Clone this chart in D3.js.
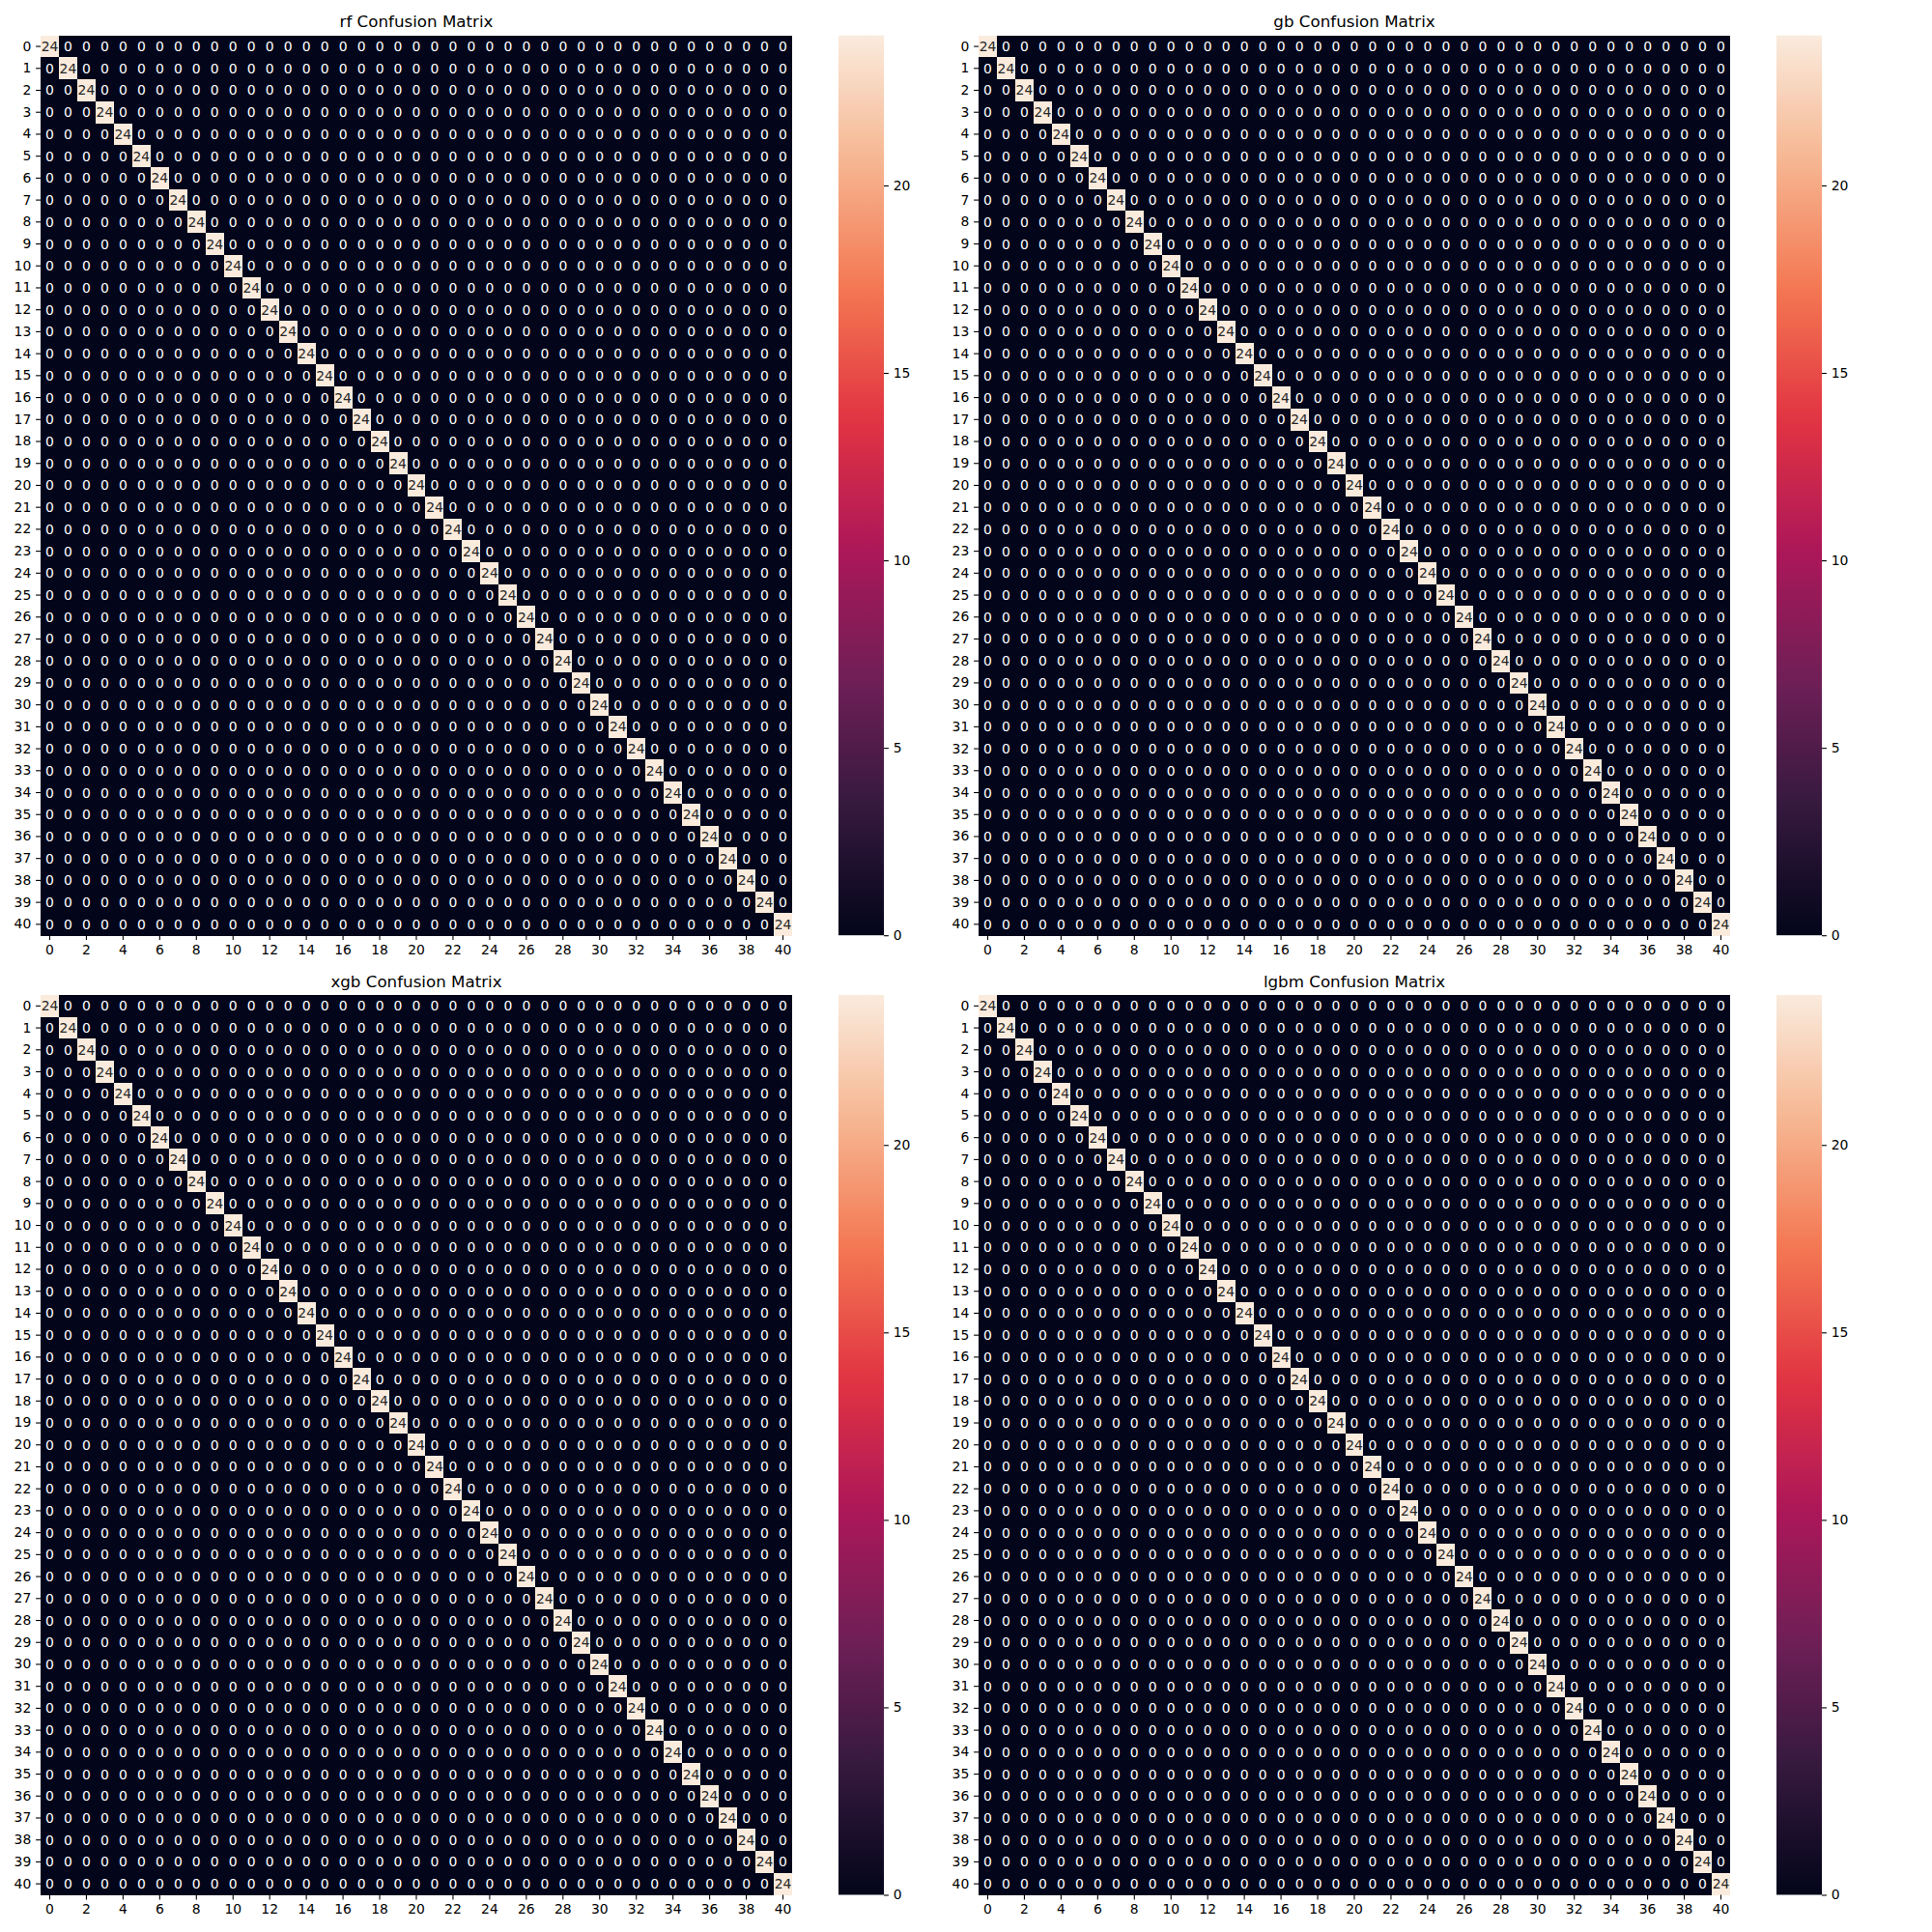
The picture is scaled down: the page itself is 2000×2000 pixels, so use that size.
<!DOCTYPE html>
<html>
<head>
<meta charset="utf-8">
<script src="https://cdn.jsdelivr.net/npm/d3@7"></script>
<style>
  html, body { margin: 0; padding: 0; background: #fff; }
  svg { display: block; }
  text { font-family: "DejaVu Sans", sans-serif; }
</style>
</head>
<body>
<svg id="chart" width="2000" height="2000"></svg>
<script>
// ---------------- DATA ----------------
const classes = [0,1,2,3,4,5,6,7,8,9,10,11,12,13,14,15,16,17,18,19,20,21,22,23,24,25,26,27,28,29,30,31,32,33,34,35,36,37,38,39,40];
const models = ["rf", "gb", "xgb", "lgbm"];
// Diagonal (correct predictions) per class, per model; all off-diagonal cells are 0
const rfDiag   = [24,24,24,24,24,24,24,24,24,24,24,24,24,24,24,24,24,24,24,24,24,24,24,24,24,24,24,24,24,24,24,24,24,24,24,24,24,24,24,24,24];
const gbDiag   = [24,24,24,24,24,24,24,24,24,24,24,24,24,24,24,24,24,24,24,24,24,24,24,24,24,24,24,24,24,24,24,24,24,24,24,24,24,24,24,24,24];
const xgbDiag  = [24,24,24,24,24,24,24,24,24,24,24,24,24,24,24,24,24,24,24,24,24,24,24,24,24,24,24,24,24,24,24,24,24,24,24,24,24,24,24,24,24];
const lgbmDiag = [24,24,24,24,24,24,24,24,24,24,24,24,24,24,24,24,24,24,24,24,24,24,24,24,24,24,24,24,24,24,24,24,24,24,24,24,24,24,24,24,24];
const xTickLabels = [0,2,4,6,8,10,12,14,16,18,20,22,24,26,28,30,32,34,36,38,40];
const yTickLabels = classes;
const colorbarTicks = [0,5,10,15,20];

// ---------------- LAYOUT ----------------
const diagByModel = { rf: rfDiag, gb: gbDiag, xgb: xgbDiag, lgbm: lgbmDiag };
const panels = [
  { name: "rf",   x0: 42,   y0: 36.7 },
  { name: "gb",   x0: 1013, y0: 36.7 },
  { name: "xgb",  x0: 42,   y0: 1030 },
  { name: "lgbm", x0: 1013, y0: 1030 }
];
const W = 778, H = 931.5;
const cbOffset = 826, cbW = 47;

// rocket colormap approximation
const rocketStops = ["#03051a", "#35193e", "#701f57", "#ad1759", "#e13342", "#f37651", "#f6b48f", "#faebdd"];
const rocket = d3.scaleLinear()
  .domain(rocketStops.map((_, i) => i / (rocketStops.length - 1)))
  .range(rocketStops)
  .interpolate(d3.interpolateRgb);

const svg = d3.select("#chart");
const tickLen = 4.9;
const fs = 13.9;

panels.forEach((p, pi) => {
  const diag = diagByModel[p.name];
  const matrix = [];
  classes.forEach((r, i) => classes.forEach((c, j) => {
    matrix.push({ r, c, v: i === j ? diag[i] : 0 });
  }));
  const vmin = 0, vmax = d3.max(matrix, d => d.v);
  const color = v => rocket((v - vmin) / (vmax - vmin));

  const x = d3.scaleBand().domain(classes).range([p.x0, p.x0 + W]).padding(0);
  const y = d3.scaleBand().domain(classes).range([p.y0, p.y0 + H]).padding(0);

  const g = svg.append("g");
  g.selectAll("rect.cell").data(matrix).join("rect")
    .attr("class", "cell")
    .attr("x", d => x(d.c))
    .attr("y", d => y(d.r))
    .attr("width", x.bandwidth() + 0.4)
    .attr("height", y.bandwidth() + 0.4)
    .attr("fill", d => color(d.v))
    .attr("shape-rendering", "crispEdges");

  g.selectAll("text.ann").data(matrix).join("text")
    .attr("class", "ann")
    .attr("x", d => x(d.c) + x.bandwidth() / 2)
    .attr("y", d => y(d.r) + y.bandwidth() / 2)
    .attr("text-anchor", "middle")
    .attr("dominant-baseline", "central")
    .attr("font-size", fs)
    .attr("fill", d => {
      const c = d3.rgb(color(d.v));
      const lum = 0.2126 * c.r + 0.7152 * c.g + 0.0722 * c.b;
      return lum > 104 ? "#262626" : "#ffffff";
    })
    .text(d => d.v);

  // axes
  const xAxis = d3.axisBottom(x).tickValues(xTickLabels).tickSize(tickLen).tickPadding(3.5 * 1.39);
  const yAxis = d3.axisLeft(y).tickValues(yTickLabels).tickSize(tickLen).tickPadding(3.5 * 1.39);
  const gx = svg.append("g").attr("transform", `translate(0,${p.y0 + H})`).call(xAxis);
  const gy = svg.append("g").attr("transform", `translate(${p.x0},0)`).call(yAxis);
  [gx, gy].forEach(a => {
    a.select(".domain").remove();
    a.selectAll(".tick line").attr("stroke", "#000").attr("stroke-width", 1.1);
    a.selectAll(".tick text").attr("font-size", fs).attr("fill", "#000").attr("font-family", "DejaVu Sans, sans-serif");
  });

  // title
  svg.append("text")
    .attr("x", p.x0 + W / 2)
    .attr("y", p.y0 - 8.5)
    .attr("text-anchor", "middle")
    .attr("font-size", 16.7)
    .attr("fill", "#000")
    .text(`${p.name} Confusion Matrix`);

  // colorbar
  const cbX = p.x0 + cbOffset;
  const cbScale = d3.scaleLinear().domain([vmin, vmax]).range([p.y0 + H, p.y0]);
  const gradId = "grad" + pi;
  const grad = svg.append("defs").append("linearGradient")
    .attr("id", gradId).attr("x1", 0).attr("y1", 1).attr("x2", 0).attr("y2", 0);
  d3.range(0, 1.0001, 0.02).forEach(t => {
    grad.append("stop").attr("offset", t).attr("stop-color", rocket(t));
  });
  svg.append("rect")
    .attr("x", cbX).attr("y", p.y0)
    .attr("width", cbW).attr("height", H)
    .attr("fill", `url(#${gradId})`);
  const cbAxis = d3.axisRight(cbScale).tickValues(colorbarTicks).tickSize(tickLen).tickPadding(3.5 * 1.39);
  const gc = svg.append("g").attr("transform", `translate(${cbX + cbW},0)`).call(cbAxis);
  gc.select(".domain").remove();
  gc.selectAll(".tick line").attr("stroke", "#000").attr("stroke-width", 1.1);
  gc.selectAll(".tick text").attr("font-size", fs).attr("fill", "#000").attr("font-family", "DejaVu Sans, sans-serif");
});
</script>
</body>
</html>
